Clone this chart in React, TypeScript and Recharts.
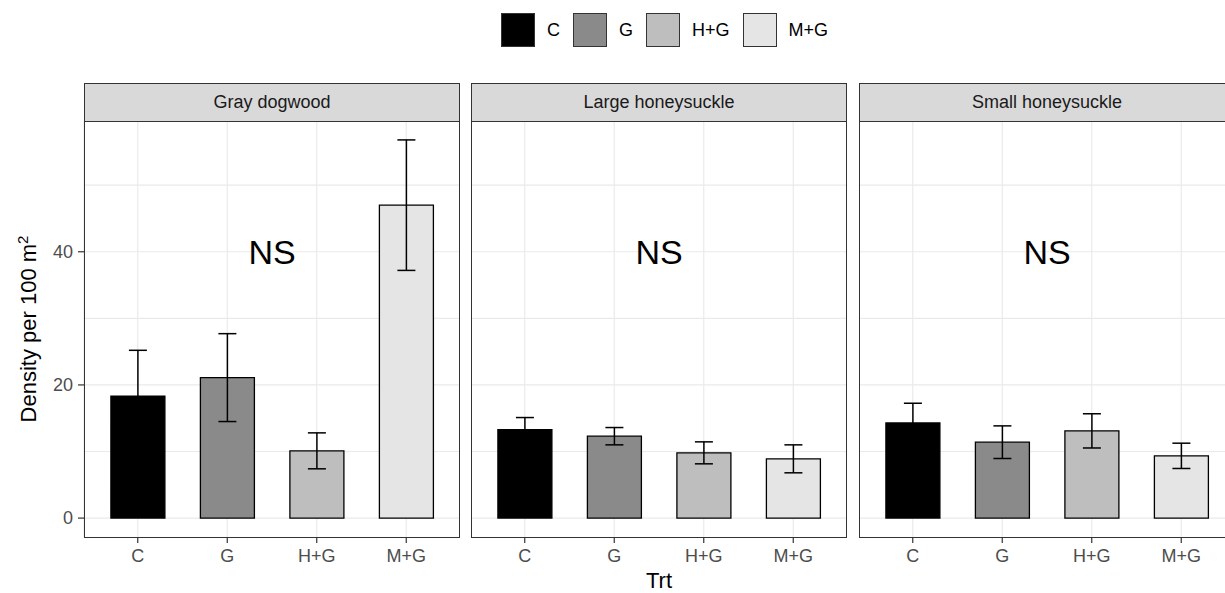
import { BarChart, Bar, XAxis, YAxis, CartesianGrid, ErrorBar, Cell, ReferenceLine } from "recharts";

// treatment levels and facet names
const treatments = ["C", "G", "H+G", "M+G"];
const species = ["Gray dogwood", "Large honeysuckle", "Small honeysuckle"];

// mean density per 100 m2 and standard error, one array per facet
const grayDogwoodMean = [18.3, 21.1, 10.1, 47.0];
const grayDogwoodSe = [6.9, 6.6, 2.7, 9.8];
const largeHoneysuckleMean = [13.3, 12.3, 9.8, 8.9];
const largeHoneysuckleSe = [1.8, 1.3, 1.65, 2.1];
const smallHoneysuckleMean = [14.3, 11.4, 13.1, 9.35];
const smallHoneysuckleSe = [2.95, 2.45, 2.57, 1.9];
const significance = ["NS", "NS", "NS"];

const yTicks = [0, 20, 40];
const yGridValues = [0, 10, 20, 30, 40, 50];

const fills = ["#000000", "#8A8A8A", "#BEBEBE", "#E5E5E5"];
const FONT = "Arial, 'Liberation Sans', sans-serif";

const means = [grayDogwoodMean, largeHoneysuckleMean, smallHoneysuckleMean];
const ses = [grayDogwoodSe, largeHoneysuckleSe, smallHoneysuckleSe];

const panels = species.map((name, p) =>
  treatments.map((trt, i) => ({ trt, mean: means[p][i], se: ses[p][i] }))
);

// ggplot style 5% expansion of the data range
const yMax = Math.max(...panels.flat().map((d) => d.mean + d.se));
const pad = yMax * 0.05;
const yDomain = [-pad, yMax + pad];

const PANEL_TOP = 121;
const PANEL_H = 416;
const PANEL_W = 376;
const PANEL_LEFT = [84, 471, 859];
const AXIS_W = 84;
const XAXIS_H = 40;

const Panel = ({ idx }: { idx: number }) => {
  const first = idx === 0;
  return (
    <>
      <div
        style={{
          position: "absolute",
          left: first ? 0 : PANEL_LEFT[idx],
          top: PANEL_TOP,
        }}
      >
        <BarChart
          width={(first ? AXIS_W : 0) + PANEL_W}
          height={PANEL_H + XAXIS_H}
          data={panels[idx]}
          margin={{ top: 0, right: 0, bottom: 0, left: 0 }}
          barCategoryGap="20%"
        >
          <CartesianGrid
            stroke="#EAEAEA"
            strokeWidth={1.2}
            horizontalValues={yGridValues}
          />
          <XAxis
            dataKey="trt"
            height={XAXIS_H}
            interval={0}
            padding={{ left: 9, right: 9 }}
            axisLine={false}
            tickLine={{ stroke: "#333333", strokeWidth: 1.2 }}
            tickSize={6}
            tickMargin={6}
            tick={{ fill: "#4D4D4D", fontSize: 18, fontFamily: FONT }}
          />
          <YAxis
            type="number"
            domain={yDomain}
            allowDataOverflow
            ticks={yTicks}
            hide={!first}
            width={AXIS_W}
            axisLine={false}
            tickLine={{ stroke: "#333333", strokeWidth: 1.2 }}
            tickSize={6}
            tickMargin={5}
            tick={{ fill: "#4D4D4D", fontSize: 18, fontFamily: FONT }}
          />
          <Bar
            dataKey="mean"
            stroke="#000000"
            strokeWidth={1.3}
            isAnimationActive={false}
          >
            {panels[idx].map((d, i) => (
              <Cell key={d.trt} fill={fills[i]} />
            ))}
            <ErrorBar
              dataKey="se"
              width={9}
              stroke="#000000"
              strokeWidth={1.5}
              direction="y"
              isAnimationActive={false}
            />
          </Bar>
          <ReferenceLine
            y={40}
            stroke="none"
            label={{
              value: significance[idx],
              position: "center",
              fontSize: 34,
              fill: "#000000",
              fontFamily: FONT,
            }}
          />
        </BarChart>
      </div>
      <div
        style={{
          position: "absolute",
          left: PANEL_LEFT[idx],
          top: PANEL_TOP,
          width: PANEL_W,
          height: PANEL_H + 1,
          border: "1px solid #333333",
          boxSizing: "border-box",
          pointerEvents: "none",
        }}
      />
      <div
        style={{
          position: "absolute",
          left: PANEL_LEFT[idx],
          top: 83,
          width: PANEL_W,
          height: 39,
          background: "#D9D9D9",
          border: "1px solid #333333",
          boxSizing: "border-box",
          display: "flex",
          alignItems: "center",
          justifyContent: "center",
          fontSize: 18,
          color: "#1A1A1A",
        }}
      >
        {species[idx]}
      </div>
    </>
  );
};

export default function App() {
  return (
    <div
      style={{
        position: "fixed",
        left: 0,
        top: 0,
        width: 1225,
        height: 593,
        overflow: "hidden",
        background: "#FFFFFF",
        fontFamily: FONT,
      }}
    >
      {/* legend */}
      <div
        style={{
          position: "absolute",
          left: 501,
          top: 13,
          height: 34,
          display: "flex",
          alignItems: "center",
        }}
      >
        {treatments.map((t, i) => (
          <div
            key={t}
            style={{ display: "flex", alignItems: "center", marginRight: 13 }}
          >
            <div
              style={{
                width: 34,
                height: 34,
                background: fills[i],
                border: "1px solid #333333",
                boxSizing: "border-box",
              }}
            />
            <span style={{ marginLeft: 12, fontSize: 18, color: "#000000" }}>
              {t}
            </span>
          </div>
        ))}
      </div>

      {species.map((s, i) => (
        <Panel key={s} idx={i} />
      ))}

      {/* axis titles */}
      <div
        style={{
          position: "absolute",
          left: 28,
          top: 329,
          transform: "translate(-50%, -50%) rotate(-90deg)",
          whiteSpace: "nowrap",
          fontSize: 22,
          color: "#000000",
        }}
      >
        Density per 100 m<sup style={{ fontSize: 15 }}>2</sup>
      </div>
      <div
        style={{
          position: "absolute",
          left: 659,
          top: 581,
          transform: "translate(-50%, -50%)",
          fontSize: 22,
          color: "#000000",
        }}
      >
        Trt
      </div>
    </div>
  );
}
